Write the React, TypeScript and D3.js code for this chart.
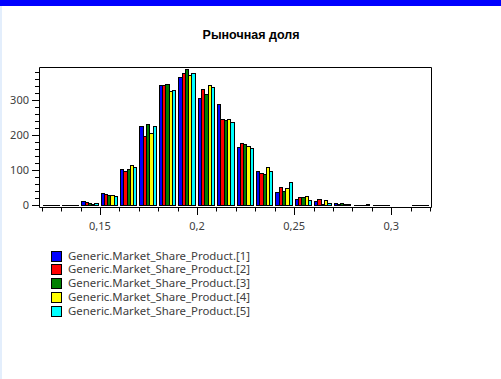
import React from "react";
import * as d3 from "d3";

const binStarts = [0.12, 0.13, 0.14, 0.15, 0.16, 0.17, 0.18, 0.19, 0.2, 0.21, 0.22, 0.23, 0.24, 0.25, 0.26, 0.27, 0.28, 0.29, 0.3, 0.31];
const seriesNames = [
  "Generic.Market_Share_Product.[1]",
  "Generic.Market_Share_Product.[2]",
  "Generic.Market_Share_Product.[3]",
  "Generic.Market_Share_Product.[4]",
  "Generic.Market_Share_Product.[5]",
];
const seriesColors = ["#0000ff", "#ff0000", "#008000", "#ffff00", "#00ffff"];
const s1 = [0, 0, 12, 35, 101, 224, 341, 364, 306, 289, 164, 98, 37, 17, 11, 6, 0, 0, null, 0];
const s2 = [0, 0, 9, 32, 98, 198, 341, 378, 332, 246, 178, 92, 51, 23, 17, 3, 0, 0, null, 0];
const s3 = [0, 0, 6, 29, 101, 232, 344, 389, 318, 241, 175, 89, 40, 23, 2, 5, 0, 0, null, 0];
const s4 = [0, 0, 3, 29, 115, 204, 324, 372, 341, 246, 167, 107, 49, 26, 14, 3, 0, 0, null, 0];
const s5 = [0, 0, 6, 24, 109, 224, 329, 378, 338, 238, 161, 98, 66, 14, 6, 3, 3, 0, null, 0];
const seriesValues = [s1, s2, s3, s4, s5];
const yMajorTicks = [0, 100, 200, 300];
const yMinorTicks = d3.range(20, 400, 20).filter((v) => v % 100 !== 0);
const xMajorTicks = [0.15, 0.2, 0.25, 0.3];
const xMinorTicks = d3.range(12, 33).map((v) => v / 100);
const title = "Рыночная доля";

const W = 501;
const H = 379;

export default function App() {
  const frameL = 39.5, frameR = 431.5, frameT = 67.5, axisY = 207.5;
  const x = d3.scaleLinear().domain([0.12, 0.32]).range([41.7, 430]);
  const y = d3.scaleLinear().domain([0, 394.3]).range([205.3, 67.3]);
  const fmt = (v: number) => String(+v.toFixed(2)).replace(".", ",");
  const textFont = "'Noto Sans', sans-serif";

  return (
    <svg width={W} height={H} style={{ position: "absolute", left: 0, top: 0, background: "#fff" }}>
      <rect x={0} y={0} width={W} height={6} fill="#0000ff" />
      <rect x={0} y={6} width={2} height={H - 6} fill="#e3eefc" />
      <text x={251} y={39} textAnchor="middle" fontFamily="'Liberation Sans', Arial, sans-serif" fontWeight="bold" fontSize={12.5} fill="#000">
        {title}
      </text>
      {/* bars */}
      {binStarts.map((b, i) => {
        const x0 = x(b);
        const band = d3.scaleBand<number>().domain(d3.range(seriesValues.length)).range([x0 + 1.2, x0 + 17.6]);
        return (
          <g key={i}>
            {seriesValues.map((s, k) => {
              const v = s[i];
              if (v === null || v === undefined) return null;
              if (v === 0) {
                const yy = Math.round(y(0)) + 0.5;
                return (
                  <line
                    key={k}
                    x1={band(k)!}
                    x2={band(k)! + band.bandwidth() + 0.5}
                    y1={yy}
                    y2={yy}
                    stroke="#000"
                    strokeWidth={1}
                    shapeRendering="crispEdges"
                  />
                );
              }
              const top = y(v);
              return (
                <rect
                  key={k}
                  x={band(k)!}
                  y={top}
                  width={band.bandwidth()}
                  height={y(0) - top}
                  fill={seriesColors[k]}
                  stroke="#000"
                  strokeWidth={1}
                  shapeRendering="crispEdges"
                />
              );
            })}
          </g>
        );
      })}
      {/* frame */}
      <path d={`M${frameL},${axisY}V${frameT}H${frameR}V${axisY}`} fill="none" stroke="#000" strokeWidth={1} />
      <line x1={frameL} x2={frameR} y1={axisY} y2={axisY} stroke="#000" />
      {/* y ticks */}
      {yMinorTicks.map((t) => (
        <line key={"ym" + t} x1={35} x2={frameL} y1={Math.round(y(t)) + 0.5} y2={Math.round(y(t)) + 0.5} stroke="#000" />
      ))}
      {yMajorTicks.map((t) => (
        <g key={"yM" + t}>
          <line x1={32} x2={frameL} y1={Math.round(y(t)) + 0.5} y2={Math.round(y(t)) + 0.5} stroke="#000" />
          <text x={29} y={y(t)} dy="0.35em" textAnchor="end" fontFamily={textFont} fontSize={11} fill="#404040">
            {t}
          </text>
        </g>
      ))}
      {/* x ticks */}
      {xMinorTicks.map((t) => (
        <line key={"xm" + t} x1={Math.round(x(t)) + 0.5} x2={Math.round(x(t)) + 0.5} y1={axisY} y2={axisY + 4} stroke="#000" />
      ))}
      {xMajorTicks.map((t) => (
        <g key={"xM" + t}>
          <line x1={Math.round(x(t)) + 0.5} x2={Math.round(x(t)) + 0.5} y1={axisY} y2={axisY + 7.5} stroke="#000" />
          <text x={x(t)} y={230} textAnchor="middle" fontFamily={textFont} fontSize={11} fill="#404040">
            {fmt(t)}
          </text>
        </g>
      ))}
      {/* legend */}
      {seriesNames.map((n, k) => {
        const ly = 250.5 + k * 13.8;
        return (
          <g key={n}>
            <rect x={51.5} y={Math.round(ly) + 0.5} width={10} height={10} fill={seriesColors[k]} stroke="#000" />
            <text x={68} y={Math.round(ly) + 5.5} dy="0.35em" fontFamily={textFont} fontSize={11.4} fill="#404040">
              {n}
            </text>
          </g>
        );
      })}
    </svg>
  );
}
